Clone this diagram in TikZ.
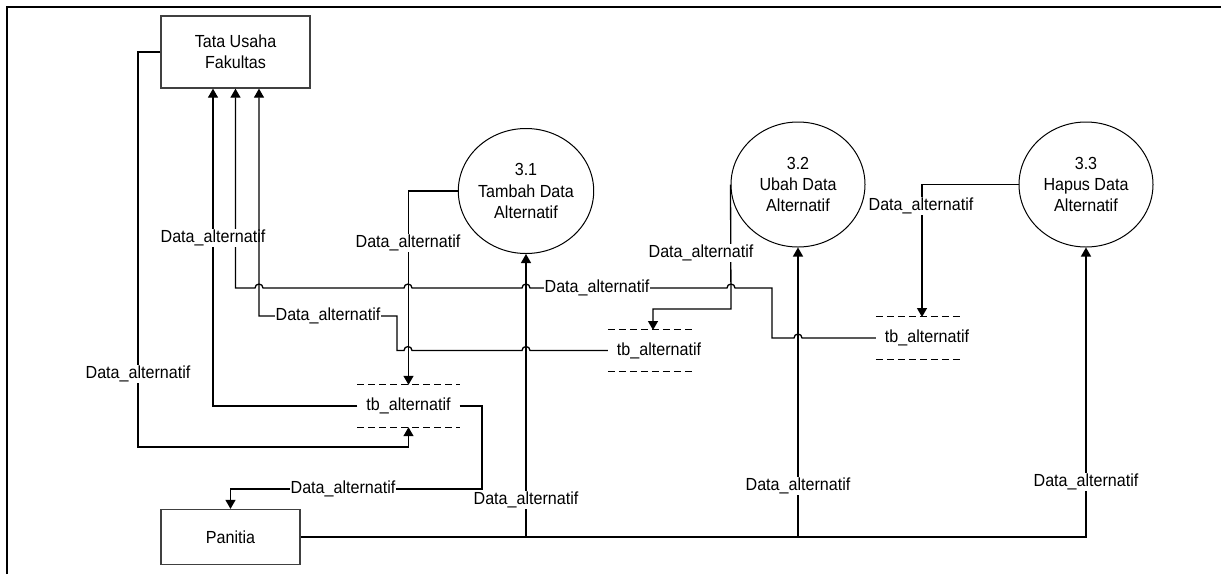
\documentclass[tikz,border=0pt]{standalone}
\usepackage{fontspec}
\setmainfont{Liberation Sans}[FakeStretch=0.92]
\usetikzlibrary{arrows.meta,shapes.geometric}
\begin{document}
\begin{tikzpicture}[x=1pt,y=-1pt,
  font=\fontsize{17.5}{21.3}\selectfont,
  ext/.style={draw=black!75, line width=1.3pt, inner sep=0pt, align=center},
  proc/.style={ellipse, draw, line width=1pt, minimum width=134pt, minimum height=125pt, inner sep=0pt, align=center},
  lbl/.style={fill=white, inner sep=1pt},
  flow/.style={-{Triangle[length=9pt,width=10pt]}},
  conn/.style={line width=1.3pt},
  stl/.style={dash pattern=on 7pt off 4pt, line width=1.3pt},
  storebox/.style={inner sep=0pt, minimum height=42pt},
  jl/.style={},
]
\useasboundingbox (0,0) rectangle (1221,574);
\fill[white] (0,0) rectangle (1221,574);
% frame
\draw[line width=2pt] (7,574) -- (7,7) -- (1221,7);

% external entities
\node[ext, minimum width=149pt, minimum height=72pt] (tu) at (235.5,52) {Tata Usaha\\Fakultas};
\node[ext, minimum width=139pt, minimum height=55pt] (pan) at (230.5,537) {Panitia};

% processes
\node[proc] (c1) at (526,191) {3.1\\Tambah Data\\Alternatif};
\node[proc] (c2) at (798,184.5) {3.2\\Ubah Data\\Alternatif};
\node[proc] (c3) at (1086,184.5) {3.3\\Hapus Data\\Alternatif};

% data stores
\node[storebox, minimum width=102pt] (s1) at (408.5,406) {};
\node[inner sep=0pt] (s1t) at (408.5,406) {tb\_alternatif};
\node[storebox, minimum width=86pt, minimum height=41pt] (s2) at (651,350.5) {};
\node[inner sep=0pt] (s2t) at (659,351) {tb\_alternatif};
\node[storebox, minimum width=86pt] (s3) at (919,338) {};
\node[inner sep=0pt] (s3t) at (927,338) {tb\_alternatif};
\foreach \s in {s1,s2,s3}{
  \draw[stl] (\s.north west) -- (\s.north east) (\s.south west) -- (\s.south east);
}

% store1 -> TU (left arrow)
\draw[conn,flow] (s1.west) -- (213,406) -- ([xshift=-22.5pt]tu.south);
% store3 -> TU (middle arrow)
\draw[conn,flow] (s3.west) -- (802,338) arc[start angle=0,end angle=180,radius=4pt]
  -- (772,338) -- (772,288) -- (735,288) arc[start angle=0,end angle=180,radius=4pt]
  -- (530,288) arc[start angle=0,end angle=180,radius=4pt]
  -- (412,288) arc[start angle=0,end angle=180,radius=4pt]
  -- (263,288) arc[start angle=0,end angle=180,radius=4pt]
  -- (235.5,288) -- (tu.south);
% TU -> store1
\draw[conn,flow] (tu.west) -- (138,52) -- (138,447) -- (408.5,447) -- (s1.south);
% store1 -> Panitia
\draw[conn,flow] (s1.east) -- (482,406) -- (482,489) -- (230.5,489) -- (pan.north);
% 3.1 -> store1
\draw[conn,flow] (c1.west) -- (408.5,191) -- (s1.north);

\node[lbl] (l1) at (213,238) {Data\_alternatif};

% store2 -> TU (right arrow)
\draw[conn,flow] (s2.west) -- (530,350.5) arc[start angle=0,end angle=180,radius=4pt]
  -- (412,350.5) arc[start angle=0,end angle=180,radius=4pt]
  -- (397,350.5) -- (397,316) -- (259,316) -- ([xshift=23.5pt]tu.south);
% 3.2 -> store2
\draw[conn,flow] (c2.west) -- (731,309) -- (653,309) -- (653,330);
% 3.3 -> store3
\draw[conn,flow] (c3.west) -- (922,184.5) -- (922,317);
% Panitia -> processes
\draw[conn,flow] (pan.east) -- (1086,537) -- (c3.south);
\draw[conn,flow] (526,537) -- (c1.south);
\draw[conn,flow] (798,537) -- (c2.south);

% labels
\node[lbl] (l2) at (597,288) {Data\_alternatif};
\node[lbl] (l3) at (328,316) {Data\_alternatif};
\node[lbl] (l4) at (138,374) {Data\_alternatif};
\node[lbl] (l5) at (408,243) {Data\_alternatif};
\node[lbl] (l6) at (343,489) {Data\_alternatif};
\node[lbl] (l7) at (526,500) {Data\_alternatif};
\node[lbl] (l8) at (701,253) {Data\_alternatif};
\node[lbl] (l9) at (921,206) {Data\_alternatif};
\node[lbl] (l10) at (798,486) {Data\_alternatif};
\node[lbl] (l11) at (1086,482) {Data\_alternatif};
\end{tikzpicture}
\end{document}
